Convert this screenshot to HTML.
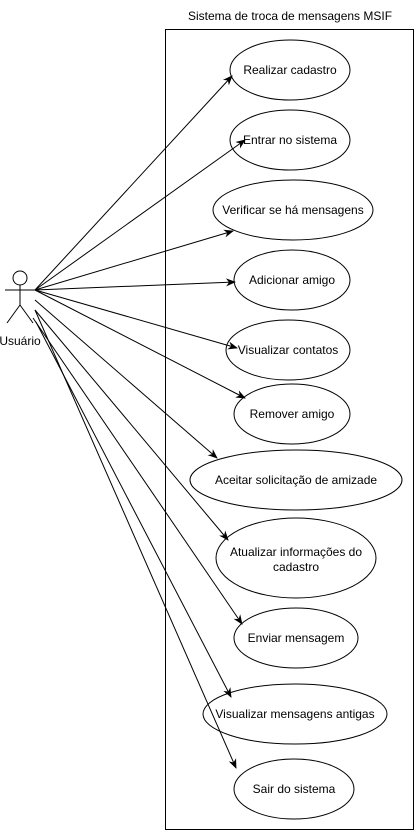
<!DOCTYPE html>
<html><head><style>
body{margin:0;background:#fff;}
svg text{font-family:"Liberation Sans",sans-serif;font-size:12px;fill:#000;}
</style></head><body>
<svg width="416" height="831" viewBox="0 0 416 831" xmlns="http://www.w3.org/2000/svg">
<defs><marker id="a" markerWidth="10" markerHeight="10" refX="9" refY="5" orient="auto" markerUnits="userSpaceOnUse"><path d="M0,1 L10,5 L0,9 L3,5 Z" fill="#000"/></marker></defs>
<text x="290" y="20" text-anchor="middle">Sistema de troca de mensagens MSIF</text>
<rect x="165.5" y="29.5" width="248" height="800" fill="#fff" stroke="#000"/>
<g fill="#fff" stroke="#000">
<ellipse cx="290" cy="70" rx="60" ry="30"/>
<ellipse cx="290" cy="140" rx="60" ry="30"/>
<ellipse cx="293" cy="210" rx="80" ry="30"/>
<ellipse cx="292" cy="280" rx="58" ry="30"/>
<ellipse cx="288" cy="350" rx="62" ry="30"/>
<ellipse cx="292" cy="414" rx="58" ry="30"/>
<ellipse cx="296" cy="480" rx="106" ry="30"/>
<ellipse cx="296" cy="558" rx="80" ry="40"/>
<ellipse cx="296" cy="638" rx="62" ry="30"/>
<ellipse cx="295" cy="714" rx="92" ry="30"/>
<ellipse cx="294" cy="789" rx="60" ry="30"/>
</g>
<g text-anchor="middle">
<text x="290" y="74">Realizar cadastro</text>
<text x="290" y="144">Entrar no sistema</text>
<text x="293" y="214">Verificar se há mensagens</text>
<text x="292" y="284">Adicionar amigo</text>
<text x="288" y="354">Visualizar contatos</text>
<text x="292" y="418">Remover amigo</text>
<text x="296" y="484">Aceitar solicitação de amizade</text>
<text x="296" y="556">Atualizar informações do</text>
<text x="296" y="571">cadastro</text>
<text x="296" y="642">Enviar mensagem</text>
<text x="295" y="718">Visualizar mensagens antigas</text>
<text x="294" y="793">Sair do sistema</text>
</g>
<g stroke="#000" fill="none">
<circle cx="20" cy="278" r="7"/>
<line x1="20" y1="285" x2="20" y2="305"/>
<line x1="5" y1="290" x2="36" y2="290"/>
<line x1="20" y1="305" x2="7" y2="323"/>
<line x1="20" y1="305" x2="33" y2="323"/>
</g>
<text x="20" y="345" text-anchor="middle">Usuário</text>
<g stroke="#000" marker-end="url(#a)">
<line x1="35" y1="290" x2="232" y2="76"/>
<line x1="35" y1="290" x2="245" y2="140"/>
<line x1="35" y1="290" x2="233" y2="231"/>
<line x1="35" y1="290" x2="235" y2="282"/>
<line x1="35" y1="290" x2="237" y2="348"/>
<line x1="35" y1="290" x2="245" y2="398"/>
<line x1="35" y1="300" x2="217" y2="458"/>
<line x1="35" y1="310" x2="228" y2="540"/>
<line x1="33" y1="318" x2="242" y2="624"/>
<line x1="36" y1="322" x2="231" y2="697"/>
<line x1="35" y1="310" x2="236" y2="768"/>
</g>
</svg>
</body></html>
